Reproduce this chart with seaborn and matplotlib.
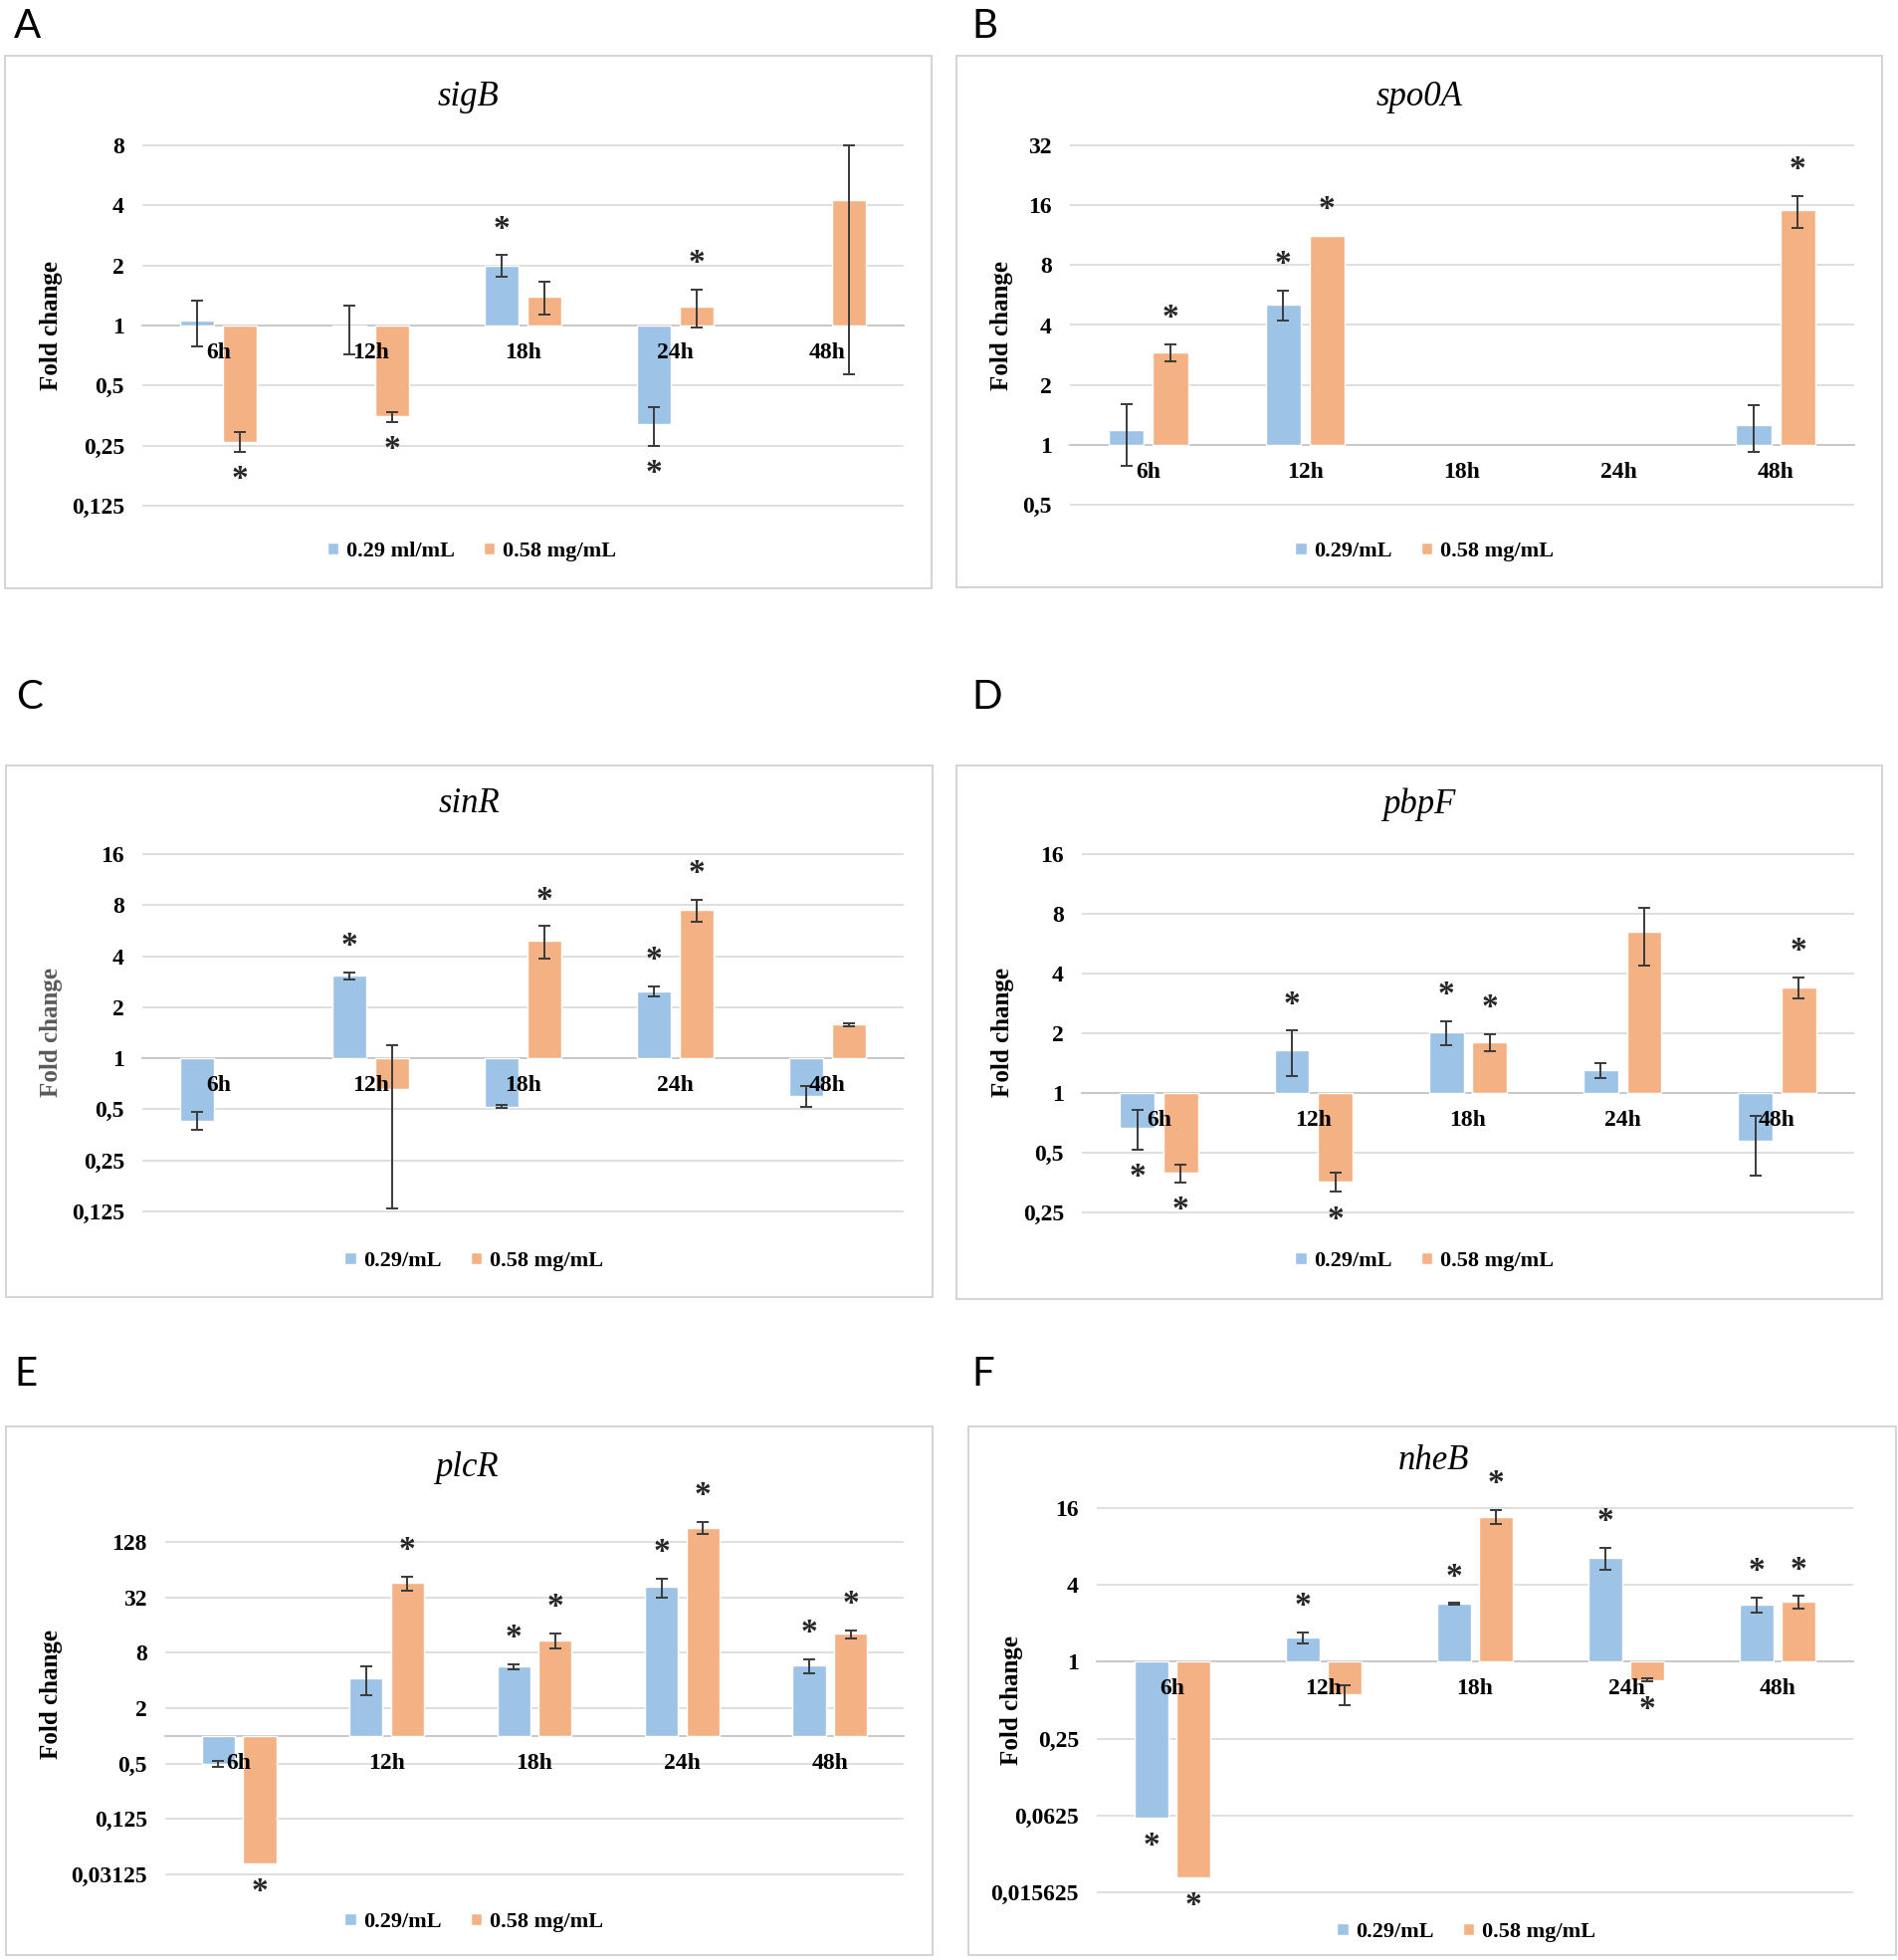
import numpy as np
import pandas as pd
import matplotlib
matplotlib.use("Agg")
import matplotlib.pyplot as plt
from matplotlib.patches import Rectangle
from matplotlib.ticker import FixedLocator, FuncFormatter
import seaborn as sns

nan = np.nan
times = ["6h", "12h", "18h", "24h", "48h"]

# fold changes (linear), symmetric error bars (linear), significance flags
sigb_low = [1.06, 0.99, 2.0, 0.32, nan]
sigb_low_err = [0.27, 0.27, 0.25, 0.07, nan]
sigb_high = [0.262, 0.35, 1.40, 1.25, 4.27]
sigb_high_err = [0.03, 0.02, 0.26, 0.27, 3.7]
sigb_low_sig = [0, 0, 1, 1, 0]
sigb_high_sig = [1, 1, 0, 1, 0]

spo0a_low = [1.19, 5.07, nan, nan, 1.25]
spo0a_low_err = [0.41, 0.88, nan, nan, 0.33]
spo0a_high = [2.92, 11.2, nan, nan, 15.1]
spo0a_high_err = [0.28, nan, nan, nan, 2.75]
spo0a_low_sig = [0, 1, 0, 0, 0]
spo0a_high_sig = [1, 1, 0, 0, 1]

sinr_low = [0.43, 3.06, 0.52, 2.49, 0.60]
sinr_low_err = [0.05, 0.13, 0.01, 0.16, 0.085]
sinr_high = [nan, 0.66, 4.93, 7.5, 1.58]
sinr_high_err = [nan, 0.53, 1.08, 1.1, 0.03]
sinr_low_sig = [0, 1, 0, 1, 0]
sinr_high_sig = [0, 0, 1, 1, 0]

pbpf_low = [0.67, 1.64, 2.02, 1.30, 0.575]
pbpf_low_err = [0.15, 0.42, 0.28, 0.11, 0.19]
pbpf_high = [0.395, 0.357, 1.80, 6.5, 3.41]
pbpf_high_err = [0.04, 0.04, 0.17, 2.1, 0.4]
pbpf_low_sig = [1, 1, 1, 0, 0]
pbpf_high_sig = [1, 1, 1, 0, 1]

plcr_low = [0.50, 4.24, 5.64, 41.3, 5.8]
plcr_low_err = [0.04, 1.5, 0.3, 9.4, 1.0]
plcr_high = [0.0406, 45.8, 10.9, 183, 12.8]
plcr_high_err = [nan, 7.9, 2.0, 28, 1.25]
plcr_low_sig = [0, 0, 1, 1, 1]
plcr_high_sig = [1, 1, 1, 1, 1]

nheb_low = [0.0597, 1.54, 2.83, 6.55, 2.79]
nheb_low_err = [nan, 0.15, 0.05, 1.3, 0.38]
nheb_high = [0.0203, 0.56, 13.7, 0.72, 2.95]
nheb_high_err = [nan, 0.1, 1.8, 0.02, 0.32]
nheb_low_sig = [1, 1, 1, 1, 1]
nheb_high_sig = [1, 0, 1, 1, 1]

W, H = 1908, 1969
BLUE = "#9dc3e6"
ORANGE = "#f4b183"
GRID = "#d9d9d9"
ERR = "#3a3a3a"

panels = [
    dict(letter="A", gene="sigB", low=sigb_low, low_err=sigb_low_err, high=sigb_high,
         high_err=sigb_high_err, low_sig=sigb_low_sig, high_sig=sigb_high_sig,
         labels=["0.29 ml/mL", "0.58 mg/mL"], ticks=(-3, 3, 1),
         x=(143, 908), y=(146, 508), box=(5, 56, 936, 591), letter_xy=(14, 26),
         title_xy=(470, 97), leg_xy=(474, 554), ylab=(52, 327, "black")),
    dict(letter="B", gene="spo0A", low=spo0a_low, low_err=spo0a_low_err, high=spo0a_high,
         high_err=spo0a_high_err, low_sig=spo0a_low_sig, high_sig=spo0a_high_sig,
         labels=["0.29/mL", "0.58 mg/mL"], ticks=(-1, 5, 1),
         x=(1075, 1863), y=(146, 507), box=(961, 56, 1891, 590), letter_xy=(976, 26),
         title_xy=(1426, 97), leg_xy=(1431, 554), ylab=(1007, 327, "black")),
    dict(letter="C", gene="sinR", low=sinr_low, low_err=sinr_low_err, high=sinr_high,
         high_err=sinr_high_err, low_sig=sinr_low_sig, high_sig=sinr_high_sig,
         labels=["0.29/mL", "0.58 mg/mL"], ticks=(-3, 4, 1),
         x=(143, 908), y=(858, 1217), box=(6, 769, 937, 1303), letter_xy=(16, 700),
         title_xy=(471, 808), leg_xy=(476, 1267), ylab=(52, 1037, "#595959")),
    dict(letter="D", gene="pbpF", low=pbpf_low, low_err=pbpf_low_err, high=pbpf_high,
         high_err=pbpf_high_err, low_sig=pbpf_low_sig, high_sig=pbpf_high_sig,
         labels=["0.29/mL", "0.58 mg/mL"], ticks=(-2, 4, 1),
         x=(1087, 1863), y=(858, 1218), box=(961, 769, 1891, 1305), letter_xy=(976, 700),
         title_xy=(1426, 808), leg_xy=(1431, 1267), ylab=(1008, 1037, "black")),
    dict(letter="E", gene="plcR", low=plcr_low, low_err=plcr_low_err, high=plcr_high,
         high_err=plcr_high_err, low_sig=plcr_low_sig, high_sig=plcr_high_sig,
         labels=["0.29/mL", "0.58 mg/mL"], ticks=(-5, 7, 2),
         x=(166, 908), y=(1549, 1883), box=(6, 1433, 937, 1964), letter_xy=(14, 1380),
         title_xy=(469, 1474), leg_xy=(476, 1931), ylab=(52, 1702, "black")),
    dict(letter="F", gene="nheB", low=nheb_low, low_err=nheb_low_err, high=nheb_high,
         high_err=nheb_high_err, low_sig=nheb_low_sig, high_sig=nheb_high_sig,
         labels=["0.29/mL", "0.58 mg/mL"], ticks=(-6, 4, 2),
         x=(1102, 1862), y=(1515, 1901), box=(973, 1433, 1905, 1964), letter_xy=(976, 1380),
         title_xy=(1440, 1468), leg_xy=(1473, 1941), ylab=(1017, 1708, "black")),
]


def fold_label(y, pos):
    return f"{2 ** y:g}".replace(".", ",")


def draw_panel(fig, p):
    lo, hi, step = p["ticks"]
    ext = 2.0
    ppu = (p["y"][1] - p["y"][0]) / (hi - lo)
    top_px = p["y"][0] - ext * ppu
    bot_px = p["y"][1] + ext * ppu
    x0, x1 = p["x"]
    ax = fig.add_axes([x0 / W, 1 - bot_px / H, (x1 - x0) / W, (bot_px - top_px) / H],
                      facecolor="none")

    df = pd.DataFrame({
        "time": times * 2,
        "conc": [p["labels"][0]] * 5 + [p["labels"][1]] * 5,
        "fc": list(p["low"]) + list(p["high"]),
    })
    df["log2fc"] = np.log2(df["fc"])
    sns.barplot(data=df, x="time", y="log2fc", hue="conc", order=times,
                hue_order=p["labels"], palette=[BLUE, ORANGE], saturation=1,
                width=0.56, gap=0.2, errorbar=None, ax=ax)

    series = [(p["low"], p["low_err"], p["low_sig"]),
              (p["high"], p["high_err"], p["high_sig"])]
    for j, (vals, errs, sig) in enumerate(series):
        off = (j - 0.5) * 0.28
        for i, (v, e, s) in enumerate(zip(vals, errs, sig)):
            if np.isnan(v):
                continue
            lv = np.log2(v)
            x = i + off
            top, bot = lv, lv
            if not np.isnan(e):
                top = np.log2(v + e)
                bot = np.log2(v - e)
                ax.errorbar([x], [lv], yerr=[[lv - bot], [top - lv]], fmt="none",
                            ecolor=ERR, elinewidth=1.4, capsize=4.2, capthick=1.4,
                            zorder=3)
            if s:
                if lv >= 0:
                    ax.annotate("*", (x, top), xytext=(0, 19), textcoords="offset points",
                                ha="center", va="center", fontsize=24, color="#262626",
                                annotation_clip=False)
                else:
                    ax.annotate("*", (x, bot), xytext=(0, -20), textcoords="offset points",
                                ha="center", va="center", fontsize=24, color="#262626",
                                annotation_clip=False)

    ax.set_xlim(-0.5, 4.5)
    ax.set_ylim(lo - ext, hi + ext)
    ax.yaxis.set_major_locator(FixedLocator(np.arange(lo, hi + 0.01, step)))
    ax.yaxis.set_major_formatter(FuncFormatter(fold_label))
    ax.grid(axis="y", color=GRID, lw=1.2)
    ax.grid(axis="x", visible=False)
    ax.set_axisbelow(True)
    # category labels sit on top of the bars, as in the original
    ax.xaxis.set_zorder(4)
    for s in ["top", "right", "left"]:
        ax.spines[s].set_visible(False)
    ax.spines["bottom"].set_position(("data", 0))
    ax.spines["bottom"].set_color("#c8c8c8")
    ax.spines["bottom"].set_linewidth(1.4)
    ax.spines["bottom"].set_zorder(0.6)
    ax.tick_params(axis="x", length=0, pad=12, labelsize=17)
    ax.tick_params(axis="y", length=0, pad=13, labelsize=17)
    ax.set_xlabel("")
    ax.set_ylabel("")

    lx, ly = p["leg_xy"]
    sns.move_legend(ax, "center", bbox_to_anchor=(lx / W, 1 - ly / H),
                    bbox_transform=fig.transFigure, ncol=2, frameon=False, title=None,
                    fontsize=16, handlelength=0.5, handleheight=0.5,
                    handletextpad=0.35, columnspacing=1.3)

    bx0, by0, bx1, by1 = p["box"]
    fig.add_artist(Rectangle((bx0 / W, 1 - by1 / H), (bx1 - bx0) / W, (by1 - by0) / H,
                             transform=fig.transFigure, fill=False, ec="#d0d0d0", lw=1.3))
    tx, ty = p["title_xy"]
    fig.text(tx / W, 1 - ty / H, p["gene"], ha="center", va="center", fontsize=25,
             fontstyle="italic", fontweight="normal")
    lx, ly = p["letter_xy"]
    fig.text(lx / W, 1 - ly / H, p["letter"], ha="left", va="center", fontsize=29,
             fontweight="normal", family=["Lato", "DejaVu Sans"])
    yx, yy, ycol = p["ylab"]
    fig.text(yx / W, 1 - yy / H, "Fold change", rotation=90, ha="center", va="center",
             fontsize=18, fontweight="bold", color=ycol)


sns.set_theme(style="white")
plt.rcParams["font.family"] = ["Liberation Serif", "DejaVu Serif"]
plt.rcParams["font.weight"] = "bold"
plt.rcParams["text.color"] = "black"
plt.rcParams["xtick.color"] = "black"
plt.rcParams["ytick.color"] = "black"

fig = plt.figure(figsize=(W / 100, H / 100), dpi=100)
fig.patch.set_facecolor("white")
for p in panels:
    draw_panel(fig, p)

fig.savefig("out.png", dpi=100)
